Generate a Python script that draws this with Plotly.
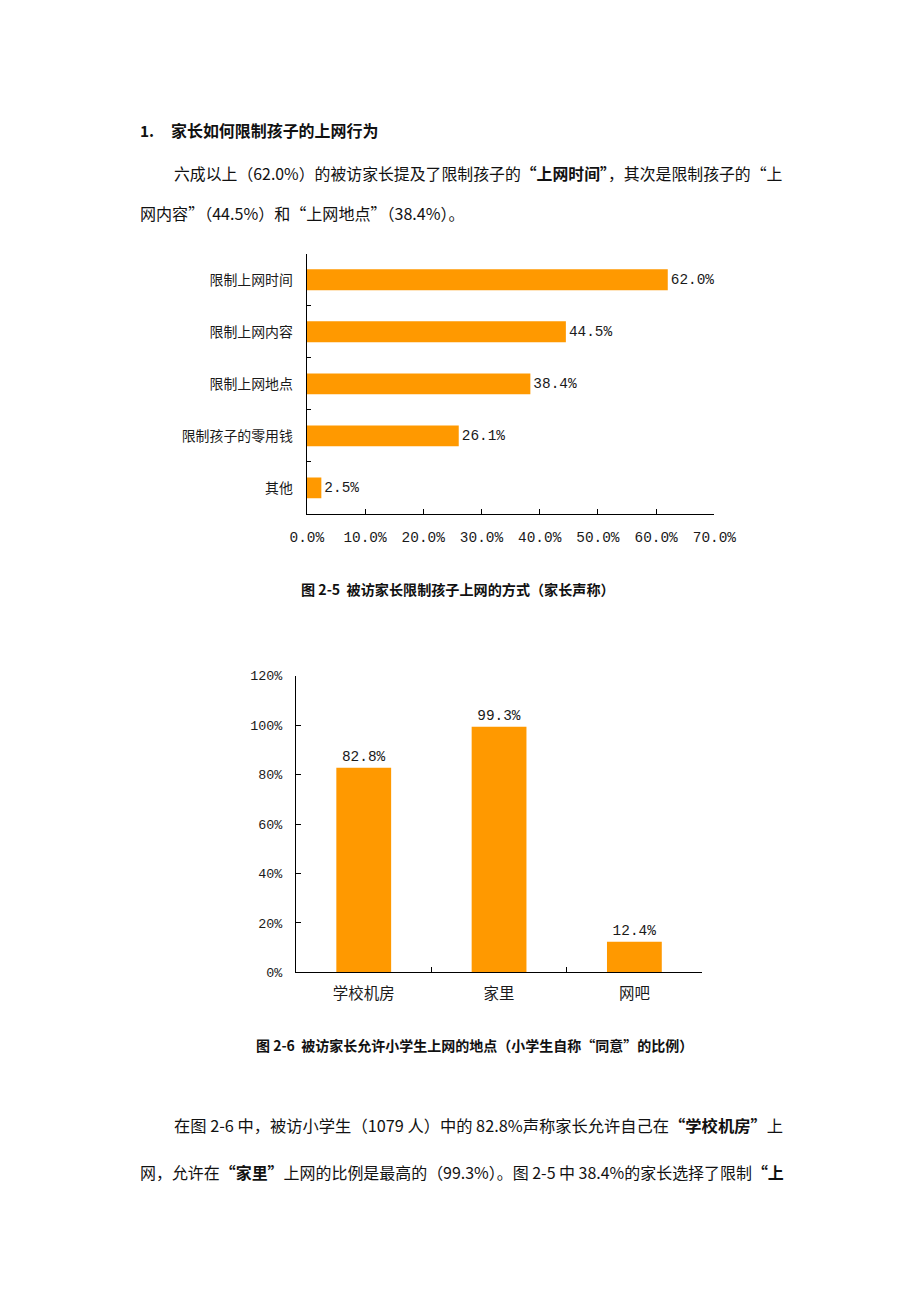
import plotly.graph_objects as go

W, H = 920, 1302

# ---------------- data ----------------
methods = ["限制上网时间", "限制上网内容", "限制上网地点", "限制孩子的零用钱", "其他"]
method_pct = [62.0, 44.5, 38.4, 26.1, 2.5]
x1_ticks = [0, 10, 20, 30, 40, 50, 60, 70]
x1_ticklabels = ["0.0%", "10.0%", "20.0%", "30.0%", "40.0%", "50.0%", "60.0%", "70.0%"]

places = ["学校机房", "家里", "网吧"]
place_pct = [82.8, 99.3, 12.4]
y2_ticks = [0, 20, 40, 60, 80, 100, 120]
y2_ticklabels = ["0%", "20%", "40%", "60%", "80%", "100%", "120%"]

ORANGE = "#FF9900"
MONO = "Liberation Mono, Noto Sans CJK SC, monospace"
CJK = "Noto Sans CJK SC, Liberation Sans, sans-serif"
TXT = "#1a1a1a"

# mapping from target picture pixels to layout pixels (compensates the
# capture geometry observed in the previous rounds)
SX, OX = 0.957, 17.1
SY, OY = 0.988, 5.7


def px(x):
    return ((x - OX) / SX) / W


def py(y):
    return 1 - ((y - OY) / SY) / H


FS = 1.03  # font compensation

fig = go.Figure()

fig.add_trace(go.Bar(
    x=method_pct, y=methods, orientation="h",
    marker=dict(color=ORANGE, line=dict(width=0)),
    width=0.40,
    text=[f"{v:.1f}%" for v in method_pct],
    textposition="outside", cliponaxis=False,
    textfont=dict(family=MONO, size=14 * FS, color=TXT),
    xaxis="x", yaxis="y", showlegend=False, hoverinfo="skip",
))

fig.add_trace(go.Bar(
    x=places, y=place_pct,
    marker=dict(color=ORANGE, line=dict(width=0)),
    width=0.405,
    text=[f"{v:.1f}%" for v in place_pct],
    textposition="outside", cliponaxis=False,
    textfont=dict(family=MONO, size=14 * FS, color=TXT),
    xaxis="x2", yaxis="y2", showlegend=False, hoverinfo="skip",
))

axis_common = dict(showgrid=False, zeroline=False, showline=True,
                   linecolor="black", linewidth=1.3, ticks="inside",
                   tickcolor="black", tickwidth=1.2, fixedrange=True)

fig.update_layout(
    width=W, height=H,
    margin=dict(l=0, r=0, t=0, b=0),
    paper_bgcolor="white", plot_bgcolor="white",
    bargap=0.6,
    xaxis=dict(domain=[px(306.7), px(714)], range=[0, 70],
               tickvals=x1_ticks, ticktext=x1_ticklabels,
               ticklen=5, anchor="y",
               tickfont=dict(family=MONO, size=14 * FS, color=TXT),
               ticklabelstandoff=10, **axis_common),
    yaxis=dict(domain=[py(513.3), py(253.3)], type="category",
               categoryorder="array", categoryarray=methods,
               range=[4.5, -0.5], tickson="boundaries", ticklen=4,
               anchor="x",
               tickfont=dict(family=CJK, size=13.5 * FS, color=TXT),
               ticklabelstandoff=10, **axis_common),
    xaxis2=dict(domain=[px(296), px(701.7)], type="category",
                categoryorder="array", categoryarray=places,
                range=[-0.5, 2.5], tickson="boundaries", ticklen=5,
                anchor="y2",
                tickfont=dict(family=CJK, size=15 * FS, color=TXT),
                ticklabelstandoff=7, **axis_common),
    yaxis2=dict(domain=[py(971.7), py(675)], range=[0, 120],
                tickvals=y2_ticks, ticktext=y2_ticklabels, ticklen=5,
                anchor="x2",
                tickfont=dict(family=MONO, size=13 * FS, color=TXT),
                ticklabelstandoff=10, **axis_common),
)

anns = []


def text(x, y, s, size=16, anchor="left", color="#111"):
    anns.append(dict(xref="paper", yref="paper", x=px(x), y=py(y), text=s,
                     showarrow=False, xanchor=anchor, yanchor="middle",
                     font=dict(family=CJK, size=size * FS, color=color)))


text(138, 130, "<b>1.</b>", size=15)
text(169, 130, "<b>家长如何限制孩子的上网行为</b>", size=15.5)
text(172, 173, "六成以上（62.0%）的被访家长提及了限制孩子的<b>“上网时间”</b>，其次是限制孩子的“上", size=15.4)
text(138, 213, "网内容”（44.5%）和“上网地点”（38.4%）。", size=15.6)

text(458, 588, "<b>图 2-5  被访家长限制孩子上网的方式（家长声称）</b>", size=13.7, anchor="center")
text(474.5, 1044, "<b>图 2-6  被访家长允许小学生上网的地点（小学生自称“同意”的比例）</b>", size=13.6, anchor="center")

text(172, 1124, "在图 2-6 中，被访小学生（1079 人）中的 82.8%声称家长允许自己在<b>“学校机房”</b>上", size=15.8)
text(138, 1171, "网，允许在<b>“家里”</b>上网的比例是最高的（99.3%）。图 2-5 中 38.4%的家长选择了限制<b>“上</b>", size=15.5)

fig.update_layout(annotations=anns)

fig.write_html("out.html")
